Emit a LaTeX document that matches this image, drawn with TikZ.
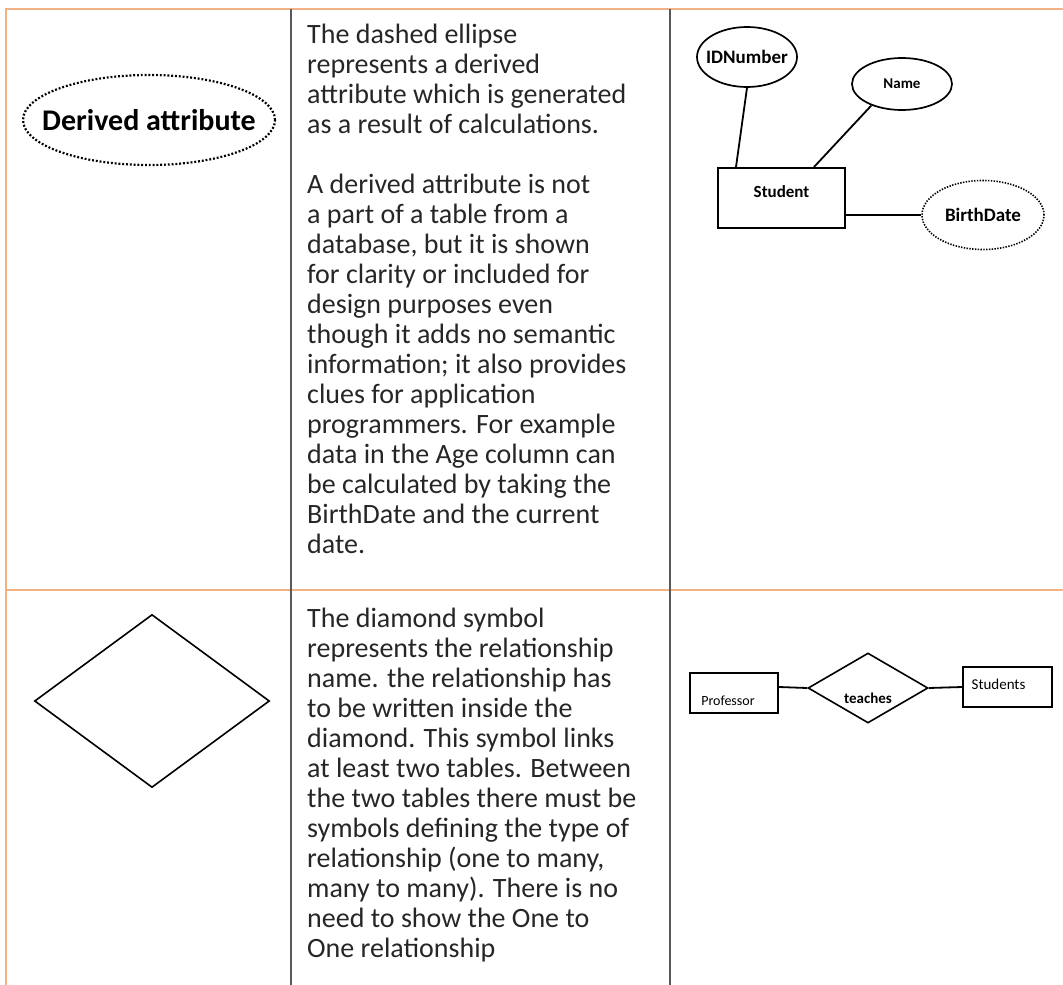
\documentclass[tikz,border=0pt]{standalone}
\usepackage{fontspec}
\setmainfont{Carlito}
\usetikzlibrary{shapes.geometric}

\definecolor{rulecol}{HTML}{F4B183}
\definecolor{colcol}{HTML}{595959}

\begin{document}
\begin{tikzpicture}[x=1pt, y=-1pt,
        attr/.style={draw, ellipse, line width=1.7pt, inner sep=0pt},
        derived/.style={attr, line width=2.2pt, dash pattern=on 1.9pt off 1.9pt},
        entity/.style={draw, rectangle, line width=2pt, inner sep=0pt},
        relation/.style={draw, diamond, line width=1.6pt, inner sep=0pt},
        link/.style={line width=1.8pt},
        attrtxt/.style={font=\bfseries\fontsize{19}{21}\selectfont},
        enttxt/.style={font=\fontsize{16}{18}\selectfont},
        body/.style={anchor=north west, align=left, inner sep=0pt, text=black!85,
            font=\fontsize{28}{30}\selectfont}]
        \useasboundingbox (0,0) rectangle (1063,985);
        % table rules
        \draw[rulecol, line width=1.5pt] (5,9) -- (1063,9);
        \draw[rulecol, line width=1.5pt] (6,9) -- (6,985);
        \draw[rulecol, line width=1.5pt] (6,590) -- (1063,590);
        \foreach \x in {291,670} {
            \draw[colcol, line width=1.5pt] (\x,9) -- (\x,985);
        }

        % row 1: derived attribute
        \node[derived, minimum width=252, minimum height=90,
            label={[font=\bfseries\fontsize{30}{32}\selectfont]center:Derived attribute}] (derivsym) at (149,120) {};
        \node[body] (derivtxt) at (307,24) {The dashed ellipse\\
            represents a derived\\
            attribute which is generated\\
            as a result of calculations.\\[30pt]
            A derived attribute is not\\
            a part of a table from a\\
            database, but it is shown\\
            for clarity or included for\\
            design purposes even\\
            though it adds no semantic\\
            information; it also provides\\
            clues for application\\
            programmers. For example\\
            data in the Age column can\\
            be calculated by taking the\\
            BirthDate and the current\\
            date.};

        \node[attr, minimum width=100, minimum height=60,
            label={[attrtxt]center:IDNumber}] (idnum) at (747,57) {};
        \node[attr, minimum width=100, minimum height=52,
            label={[attrtxt, font=\bfseries\fontsize{15}{17}\selectfont]center:Name}] (name) at (902,84) {};
        \node[entity, minimum width=127, minimum height=60,
            label={[enttxt, font=\bfseries\fontsize{17}{19}\selectfont, yshift=6pt]center:Student}] (student) at (781.5,198) {};
        \node[derived, line width=1.6pt, dash pattern=on 1.4pt off 1.4pt, minimum width=122, minimum height=69,
            label={[attrtxt]center:BirthDate}] (birth) at (983,215) {};
        \draw[link] (idnum.south) -- ([xshift=19pt]student.north west);
        \draw[link] (name.215) -- ([xshift=97pt]student.north west);
        \draw[link] ([yshift=-17pt]student.east) -- (birth.west);

        % row 2: relationship
        \node[relation, minimum width=235, minimum height=173] (relsym) at (152,701) {};
        \node[body] (reltxt) at (307,608) {The diamond symbol\\
            represents the relationship\\
            name. the relationship has\\
            to be written inside the\\
            diamond. This symbol links\\
            at least two tables. Between\\
            the two tables there must be\\
            symbols defining the type of\\
            relationship (one to many,\\
            many to many). There is no\\
            need to show the One to\\
            One relationship};

        \node[entity, minimum width=88, minimum height=40,
            label={[enttxt, font=\fontsize{14}{16}\selectfont, xshift=-6pt, yshift=-8pt]center:Professor}] (prof) at (734,693) {};
        \node[relation, minimum width=120, minimum height=70,
            label={[attrtxt, font=\bfseries\fontsize{15}{17}\selectfont, yshift=-10pt]center:teaches}] (teach) at (868,688) {};
        \node[entity, minimum width=89, minimum height=40,
            label={[enttxt, font=\fontsize{15}{17}\selectfont, xshift=-9pt, yshift=3pt]center:Students}] (studs) at (1007.5,687) {};
        \draw[link] ([yshift=6pt]prof.east) -- (teach.west);
        \draw[link] (teach.east) -- (studs.west);
\end{tikzpicture}
\end{document}
